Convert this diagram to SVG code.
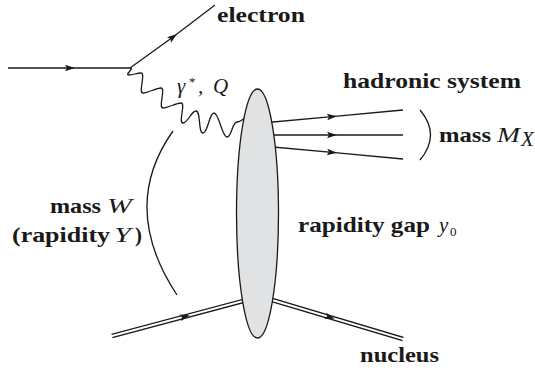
<svg xmlns="http://www.w3.org/2000/svg" width="535" height="371" viewBox="0 0 535 371">
<style>
.ln{fill:none;stroke:#1a1a1a;stroke-width:1.3}
.dbl{fill:none;stroke:#1a1a1a;stroke-width:4.6}
.dblw{fill:none;stroke:#fff;stroke-width:2}
text{font-family:"Liberation Serif","DejaVu Serif",serif;fill:#1a1a1a}
.b{font-weight:bold;font-size:21px}
.m{font-style:italic;font-size:21px}
.r{font-size:13px}
</style>
<defs>
<marker id="arr" markerUnits="userSpaceOnUse" markerWidth="12" markerHeight="10" refX="0" refY="0" orient="auto" overflow="visible">
<path d="M5,0 L-5,-3.3 L-3,0 L-5,3.3 Z" fill="#1a1a1a"/>
</marker>
</defs>
<g id="connectors">
<path class="ln" d="M8,68 L70,68 L130,68" marker-mid="url(#arr)"/>
<path class="ln" d="M130,68 L173,37 L215,5" marker-mid="url(#arr)"/>
<path class="ln" d="M130,68 C135,68 124,75 129,75 C134,75 136,73 141,73 C146,73 138,93 143,93 C148,93 156,88 161,88 C166,88 158,108 163,108 C168,108 176,103 181,103 C186,103 178,123 183,123 C188,123 191,111 196,111 C201,111 198,133 203,133 C208,133 209,113 214,113 C219,113 222,137 227,137 C232,137 232,122 237,122 C240,122 242,120 245,118"/>
<path class="ln" d="M262,123 L332,116.6 L403,110" marker-mid="url(#arr)"/>
<path class="ln" d="M262,135 L332,135 L403,135" marker-mid="url(#arr)"/>
<path class="ln" d="M262,146 L332,152.4 L403,159" marker-mid="url(#arr)"/>
<path class="ln" d="M420,110 Q441,135 420,160"/>
<path class="ln" d="M173,131 Q119,207 177,295"/>
<path class="dbl" d="M112,336 L257,297.3"/>
<path class="dblw" d="M110,336.5 L257,297.3"/>
<path class="dbl" d="M257,295.5 L403,339"/>
<path class="dblw" d="M257,295.5 L405,339.6"/>
<path d="M112,336 L185,316.5 L257,297.3" stroke="none" fill="none" marker-mid="url(#arr)"/>
<path d="M257,295.5 L330,317.3 L403,339" stroke="none" fill="none" marker-mid="url(#arr)"/>
</g>
<g id="blob">
<ellipse cx="257.5" cy="213.5" rx="21" ry="124.5" fill="#e1e2e4" stroke="#1a1a1a" stroke-width="1.3"/>
</g>
<g id="electron">
<text class="b" x="217" y="22" textLength="88" lengthAdjust="spacingAndGlyphs">electron</text>
</g>
<g id="photon-label">
<text class="m" x="177" y="93" font-size="19">γ</text>
<text class="r" x="189" y="86" font-size="12">*</text>
<text class="m" x="198" y="93" font-size="19" font-style="normal">,</text>
<text class="m" x="213" y="93" font-size="19">Q</text>
</g>
<g id="hadronic">
<text class="b" x="343" y="88" textLength="178" lengthAdjust="spacingAndGlyphs">hadronic system</text>
<text class="b" x="439" y="142" textLength="52" lengthAdjust="spacingAndGlyphs">mass</text>
<text class="m" x="497" y="142" textLength="23" lengthAdjust="spacingAndGlyphs">M</text>
<text class="m" x="521" y="146" font-size="13">X</text>
</g>
<g id="mass-w">
<text class="b" x="50" y="213" textLength="51" lengthAdjust="spacingAndGlyphs">mass</text>
<text class="m" x="107" y="213" textLength="25" lengthAdjust="spacingAndGlyphs">W</text>
<text class="b" x="12" y="242" textLength="98" lengthAdjust="spacingAndGlyphs">(rapidity</text>
<text class="m" x="114" y="242" textLength="17" lengthAdjust="spacingAndGlyphs">Y</text>
<text class="b" x="135" y="242">)</text>
</g>
<g id="gap">
<text class="b" x="298" y="232" textLength="132" lengthAdjust="spacingAndGlyphs">rapidity gap</text>
<text class="m" x="439" y="232">y</text>
<text class="r" x="450" y="236">0</text>
</g>
<g id="nucleus">
<text class="b" x="360" y="362" textLength="79" lengthAdjust="spacingAndGlyphs">nucleus</text>
</g>
</svg>
